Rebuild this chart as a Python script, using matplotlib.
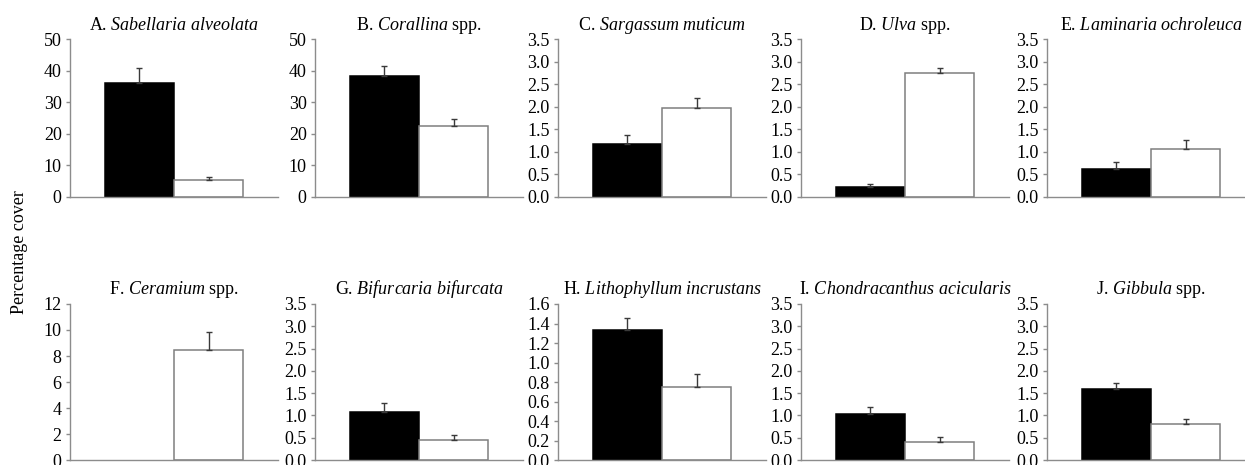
import numpy as np
import matplotlib
matplotlib.use('Agg')
import matplotlib.pyplot as plt

plt.rcParams['font.family'] = 'Liberation Serif'
plt.rcParams['mathtext.fontset'] = 'custom'
plt.rcParams['mathtext.rm'] = 'Liberation Serif'
plt.rcParams['mathtext.it'] = 'Liberation Serif:italic'

# datos
letras = ['A', 'B', 'C', 'D', 'E', 'F', 'G', 'H', 'I', 'J']
especies = ['Sabellaria alveolata', 'Corallina', 'Sargassum muticum', 'Ulva',
            'Laminaria ochroleuca', 'Ceramium', 'Bifurcaria bifurcata',
            'Lithophyllum incrustans', 'Chondracanthus acicularis', 'Gibbula']
sufijo = ['', ' spp.', '', ' spp.', '', ' spp.', '', '', '', ' spp.']
negro = [36.3, 38.4, 1.18, 0.22, 0.62, 0.0, 1.08, 1.33, 1.04, 1.60]
negro_err = [4.6, 3.2, 0.18, 0.05, 0.15, 0.0, 0.19, 0.13, 0.14, 0.12]
blanco = [5.1, 22.4, 1.97, 2.75, 1.06, 8.47, 0.44, 0.75, 0.41, 0.81]
blanco_err = [1.2, 2.3, 0.23, 0.12, 0.19, 1.4, 0.12, 0.13, 0.11, 0.10]
ymax = [50, 50, 3.5, 3.5, 3.5, 12, 3.5, 1.6, 3.5, 3.5]
ypaso = [10, 10, 0.5, 0.5, 0.5, 2, 0.5, 0.2, 0.5, 0.5]

W, H = 1245, 465
fig = plt.figure(figsize=(W/100, H/100), dpi=100)

izq = [70, 315, 558, 801, 1047]  # borde izquierdo de cada panel [px]
filas = [(39.5, 196.5), (304, 460)]  # arriba, abajo [px]
ancho = 208
gris = '#8c8c8c'

for i in range(10):
    fila, col = divmod(i, 5)
    top, bot = filas[fila]
    ax = fig.add_axes([izq[col]/W, 1 - bot/H, ancho/W, (bot - top)/H])

    vals = [negro[i], blanco[i]]
    errs = [negro_err[i], blanco_err[i]]
    relleno = ['black', 'white']
    borde = ['black', '#7f7f7f']
    for xx in range(2):
        if vals[xx] <= 0:
            continue  # sin barra
        ax.bar(xx, vals[xx], width=1.0, color=relleno[xx],
               edgecolor=borde[xx], linewidth=1.1, zorder=2)
        ax.errorbar(xx, vals[xx], yerr=[[0], [errs[xx]]], fmt='none',
                    ecolor='#3a3a3a', elinewidth=1, capsize=2.5, capthick=1,
                    zorder=3)

    ax.set_xlim(-1, 2)
    ax.set_ylim(0, ymax[i])
    ticks = np.arange(0, ymax[i] + ypaso[i]/2, ypaso[i])
    ax.set_yticks(ticks)
    if ypaso[i] >= 1:
        ax.set_yticklabels(['%d' % t for t in ticks])
    else:
        ax.set_yticklabels(['%.1f' % t for t in ticks])
    ax.set_xticks([])
    ax.tick_params(axis='y', direction='out', length=3, width=1, color=gris,
                   labelsize=13, pad=3)
    for s in ['top', 'right']:
        ax.spines[s].set_visible(False)
    for s in ['left', 'bottom']:
        ax.spines[s].set_color(gris)
        ax.spines[s].set_linewidth(1)
    ax.patch.set_alpha(0)

    nombre = especies[i].replace(' ', r'\ ')
    ax.set_title(letras[i] + '. $\\mathit{' + nombre + '}$' + sufijo[i],
                 fontsize=13, pad=7)

fig.text(20/W, 1 - 252/H, 'Percentage cover', rotation=90,
         ha='center', va='center', fontsize=13)

fig.savefig('out.png', dpi=100)
